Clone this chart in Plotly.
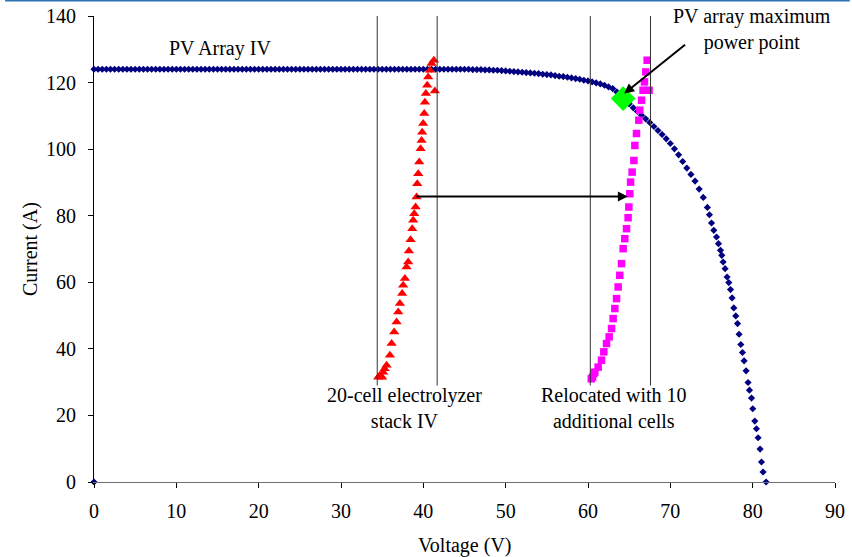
import plotly.graph_objects as go

# PV array IV curve (voltage V, current A)
pv_v = [0.0,
        0.0, 0.5, 1.0, 1.5, 2.0, 2.5, 3.0, 3.5, 4.0, 4.5, 5.0, 5.5, 6.0, 6.5, 7.0, 7.5, 8.0, 8.5, 9.0, 9.5,
        10.0, 10.5, 11.0, 11.5, 12.0, 12.5, 13.0, 13.5, 14.0, 14.5, 15.0, 15.5, 16.0, 16.5, 17.0, 17.5, 18.0, 18.5, 19.0, 19.5,
        20.0, 20.5, 21.0, 21.5, 22.0, 22.5, 23.0, 23.5, 24.0, 24.5, 25.0, 25.5, 26.0, 26.5, 27.0, 27.5, 28.0, 28.5, 29.0, 29.5,
        30.0, 30.5, 31.0, 31.5, 32.0, 32.5, 33.0, 33.5, 34.0, 34.5, 35.0, 35.5, 36.0, 36.5, 37.0, 37.5, 38.0, 38.5, 39.0, 39.5,
        40.0, 40.5, 41.0, 41.5, 42.0, 42.5, 43.0, 43.5, 44.0, 44.5, 45.0, 45.5, 46.0, 46.5, 47.0, 47.5, 48.0, 48.5, 49.0, 49.5,
        50.0, 50.5, 51.0, 51.5, 52.0, 52.5, 53.0, 53.5, 54.0, 54.5, 55.0, 55.5, 56.0, 56.5, 57.0, 57.5, 58.0, 58.5, 59.0, 59.5,
        60.0, 60.5, 61.0, 61.5, 62.0, 62.5, 63.0, 63.5, 64.0, 64.5, 65.0, 65.5, 66.0, 66.5, 67.0, 67.5, 68.0, 68.5, 69.0, 69.5,
        70.0, 70.5, 71.0, 71.5, 72.0, 72.5, 73.0, 73.5, 74.0, 74.5, 74.75,
        75.00, 75.28, 75.61, 75.85, 76.09, 76.25, 76.41, 76.65, 76.89, 77.10, 77.31, 77.50, 77.71, 77.95, 78.16,
        78.35, 78.56, 78.76, 78.96, 79.20, 79.44, 79.61, 79.86, 80.01, 80.26, 80.46, 80.66, 80.90, 81.07, 81.26, 81.63]
pv_i = [0.0,
        124.0, 124.0, 124.0, 124.0, 124.0, 124.0, 124.0, 124.0, 124.0, 124.0, 124.0, 124.0, 124.0, 124.0, 124.0, 124.0, 124.0, 124.0, 124.0, 124.0,
        124.0, 124.0, 124.0, 124.0, 124.0, 124.0, 124.0, 124.0, 124.0, 124.0, 124.0, 124.0, 124.0, 124.0, 124.0, 124.0, 124.0, 124.0, 124.0, 124.0,
        124.0, 124.0, 124.0, 124.0, 124.0, 124.0, 124.0, 124.0, 124.0, 124.0, 124.0, 124.0, 124.0, 124.0, 124.0, 124.0, 124.0, 124.0, 124.0, 124.0,
        124.0, 124.0, 124.0, 124.0, 124.0, 124.0, 124.0, 124.0, 124.0, 124.0, 124.0, 124.0, 124.0, 124.0, 124.0, 124.0, 124.0, 124.0, 124.0, 124.0,
        124.0, 124.0, 124.0, 124.0, 124.0, 124.0, 124.0, 124.0, 124.0, 124.0, 124.0, 124.0, 123.9, 123.9, 123.9, 123.8, 123.8, 123.7, 123.7, 123.6,
        123.5, 123.4, 123.3, 123.2, 123.1, 123.0, 122.9, 122.8, 122.7, 122.5, 122.4, 122.3, 122.1, 121.9, 121.8, 121.6, 121.4, 121.2, 121.0, 120.7,
        120.5, 120.2, 119.9, 119.6, 119.2, 118.7, 118.2, 117.2, 116.0, 114.8, 113.6, 112.4, 111.3, 110.2, 109.1, 108.0, 106.8, 105.6, 104.4, 103.1,
        101.7, 100.1, 98.3, 96.3, 94.3, 92.4, 90.4, 88.0, 85.5, 82.5, 80.3,
        77.8, 75.6, 73.6, 71.6, 69.6, 68.1, 66.1, 64.1, 61.6, 59.9, 57.8, 55.3, 52.3, 49.9, 47.6,
        44.4, 41.3, 38.9, 36.4, 33.4, 29.9, 27.6, 25.2, 22.0, 18.3, 16.0, 13.3, 9.9, 6.0, 3.0, 0.0]

# 20-cell electrolyzer stack IV
stack_v = [34.52, 34.70, 35.00, 35.13, 35.30, 35.54, 35.94, 36.15, 36.46, 36.75, 36.95, 37.15, 37.43, 37.55,
           37.76, 37.96, 38.16, 38.25, 38.45, 38.65, 38.77, 38.89, 39.06, 39.18, 39.26, 39.38, 39.50,
           39.67, 39.79, 39.86, 39.98, 40.11, 40.19, 40.31, 40.47, 40.59, 40.80, 41.00, 41.28, 41.40]
stack_i = [31.5, 32.0, 31.5, 33.0, 34.0, 35.1, 38.1, 41.6, 45.1, 48.1, 51.1, 53.6, 56.6, 59.1,
           61.1, 64.6, 66.1, 69.4, 72.8, 76.1, 78.6, 80.6, 82.6, 85.6, 89.6, 92.6, 96.1,
           100.1, 102.6, 105.1, 107.7, 110.7, 114.1, 116.7, 119.2, 121.7, 123.7, 125.7, 126.7, 117.5]

# Relocated with 10 additional cells
reloc_v = [60.40, 60.55, 60.70, 60.83, 61.23, 61.64, 61.92, 62.25, 62.57, 62.86, 63.05, 63.26, 63.47, 63.66,
           63.86, 64.07, 64.27, 64.47, 64.68, 64.87, 64.96, 65.08, 65.17, 65.36, 65.57, 65.69, 65.89,
           66.17, 66.29, 66.50, 66.69, 66.86, 67.02, 67.18, 67.42]
reloc_i = [31.0, 31.5, 32.5, 33.0, 34.5, 36.6, 39.1, 41.6, 43.6, 46.1, 49.1, 52.1, 55.1, 58.6,
           62.1, 65.6, 70.1, 73.1, 76.1, 79.4, 82.6, 86.6, 90.1, 93.1, 96.6, 101.1, 104.7,
           108.7, 111.7, 114.7, 117.7, 120.2, 123.2, 126.7, 117.7]

# PV array maximum power point
mpp_v = [64.27]
mpp_i = [115.2]

# Vertical reference lines (V)
vline_v = [34.40, 41.68, 60.28, 67.59]

x_ticks = [0, 10, 20, 30, 40, 50, 60, 70, 80, 90]
y_ticks = [0, 20, 40, 60, 80, 100, 120, 140]

FONT = "Liberation Serif, Times New Roman, serif"

fig = go.Figure()
fig.add_trace(go.Scatter(x=pv_v, y=pv_i, mode="markers", cliponaxis=False,
                         marker=dict(symbol="diamond", size=5.5, color="#000080", line=dict(width=0))))
fig.add_trace(go.Scatter(x=stack_v, y=stack_i, mode="markers", cliponaxis=False,
                         marker=dict(symbol="triangle-up", size=9, color="#FF0000", line=dict(width=0))))
fig.add_trace(go.Scatter(x=reloc_v, y=reloc_i, mode="markers", cliponaxis=False,
                         marker=dict(symbol="square", size=7.5, color="#FF00FF", line=dict(width=0))))
fig.add_trace(go.Scatter(x=mpp_v, y=mpp_i, mode="markers", cliponaxis=False,
                         marker=dict(symbol="diamond", size=19, color="#00FF00", line=dict(width=0))))

shapes = []
for v in vline_v:
    shapes.append(dict(type="line", xref="x", yref="y", x0=v, x1=v, y0=29, y1=140,
                       line=dict(color="#333333", width=1), layer="above"))
# thin blue border line at top of image
shapes.append(dict(type="line", xref="paper", yref="paper", x0=-0.12, x1=1.02,
                   y0=1 + 15.2 / 466, y1=1 + 15.2 / 466, line=dict(color="#2E75B6", width=1.5)))

annotations = [
    dict(x=64.84, y=85.8, ax=38.98, ay=85.8, xref="x", yref="y", axref="x", ayref="y",
         showarrow=True, arrowhead=2, arrowsize=1, arrowwidth=2, arrowcolor="black", text=""),
    dict(x=64.39, y=116.7, ax=71.97, ay=131.7, xref="x", yref="y", axref="x", ayref="y",
         showarrow=True, arrowhead=2, arrowsize=1, arrowwidth=2, arrowcolor="black", text=""),
    dict(x=15.3, y=130.3, xref="x", yref="y", text="PV Array IV", showarrow=False),
    dict(x=79.9, y=135.8, xref="x", yref="y", text="PV array maximum<br>power point", showarrow=False),
    dict(x=37.7, y=22.3, xref="x", yref="y", text="20-cell electrolyzer<br>stack IV", showarrow=False),
    dict(x=63.2, y=22.3, xref="x", yref="y", text="Relocated with 10<br>additional cells", showarrow=False),
    dict(x=0.5, y=0, xref="paper", yref="paper", yshift=-63, text="Voltage (V)", showarrow=False,
         yanchor="middle"),
    dict(x=0, y=0.5, xref="paper", yref="paper", xshift=-64, text="Current (A)", showarrow=False,
         textangle=-90, xanchor="center"),
]

fig.update_layout(
    width=852, height=557,
    autosize=False,
    margin=dict(l=94, r=17, t=16, b=75, pad=0, autoexpand=False),
    paper_bgcolor="white", plot_bgcolor="white",
    showlegend=False,
    font=dict(family=FONT, size=20, color="black"),
    shapes=shapes,
    annotations=annotations,
    xaxis=dict(range=[0, 90], tickvals=x_ticks, ticks="outside", ticklen=5, tickcolor="black",
               showgrid=False, zeroline=False, showline=True, linecolor="#707070", linewidth=1,
               automargin=False, ticklabelstandoff=6, tickfont=dict(family=FONT, size=20)),
    yaxis=dict(range=[0, 140], tickvals=y_ticks, ticks="outside", ticklen=5, tickcolor="black",
               showgrid=False, zeroline=False, showline=True, linecolor="black", linewidth=1,
               automargin=False, ticklabelstandoff=8, tickfont=dict(family=FONT, size=20)),
)

post = ("document.body.style.margin='0';document.body.style.padding='0';"
        "document.body.style.overflow='hidden';"
        "var d=document.getElementById('{plot_id}');"
        "d.style.position='absolute';d.style.left='0px';d.style.top='0px';")

fig.write_html("out.html", post_script=post, config={"displayModeBar": False})
